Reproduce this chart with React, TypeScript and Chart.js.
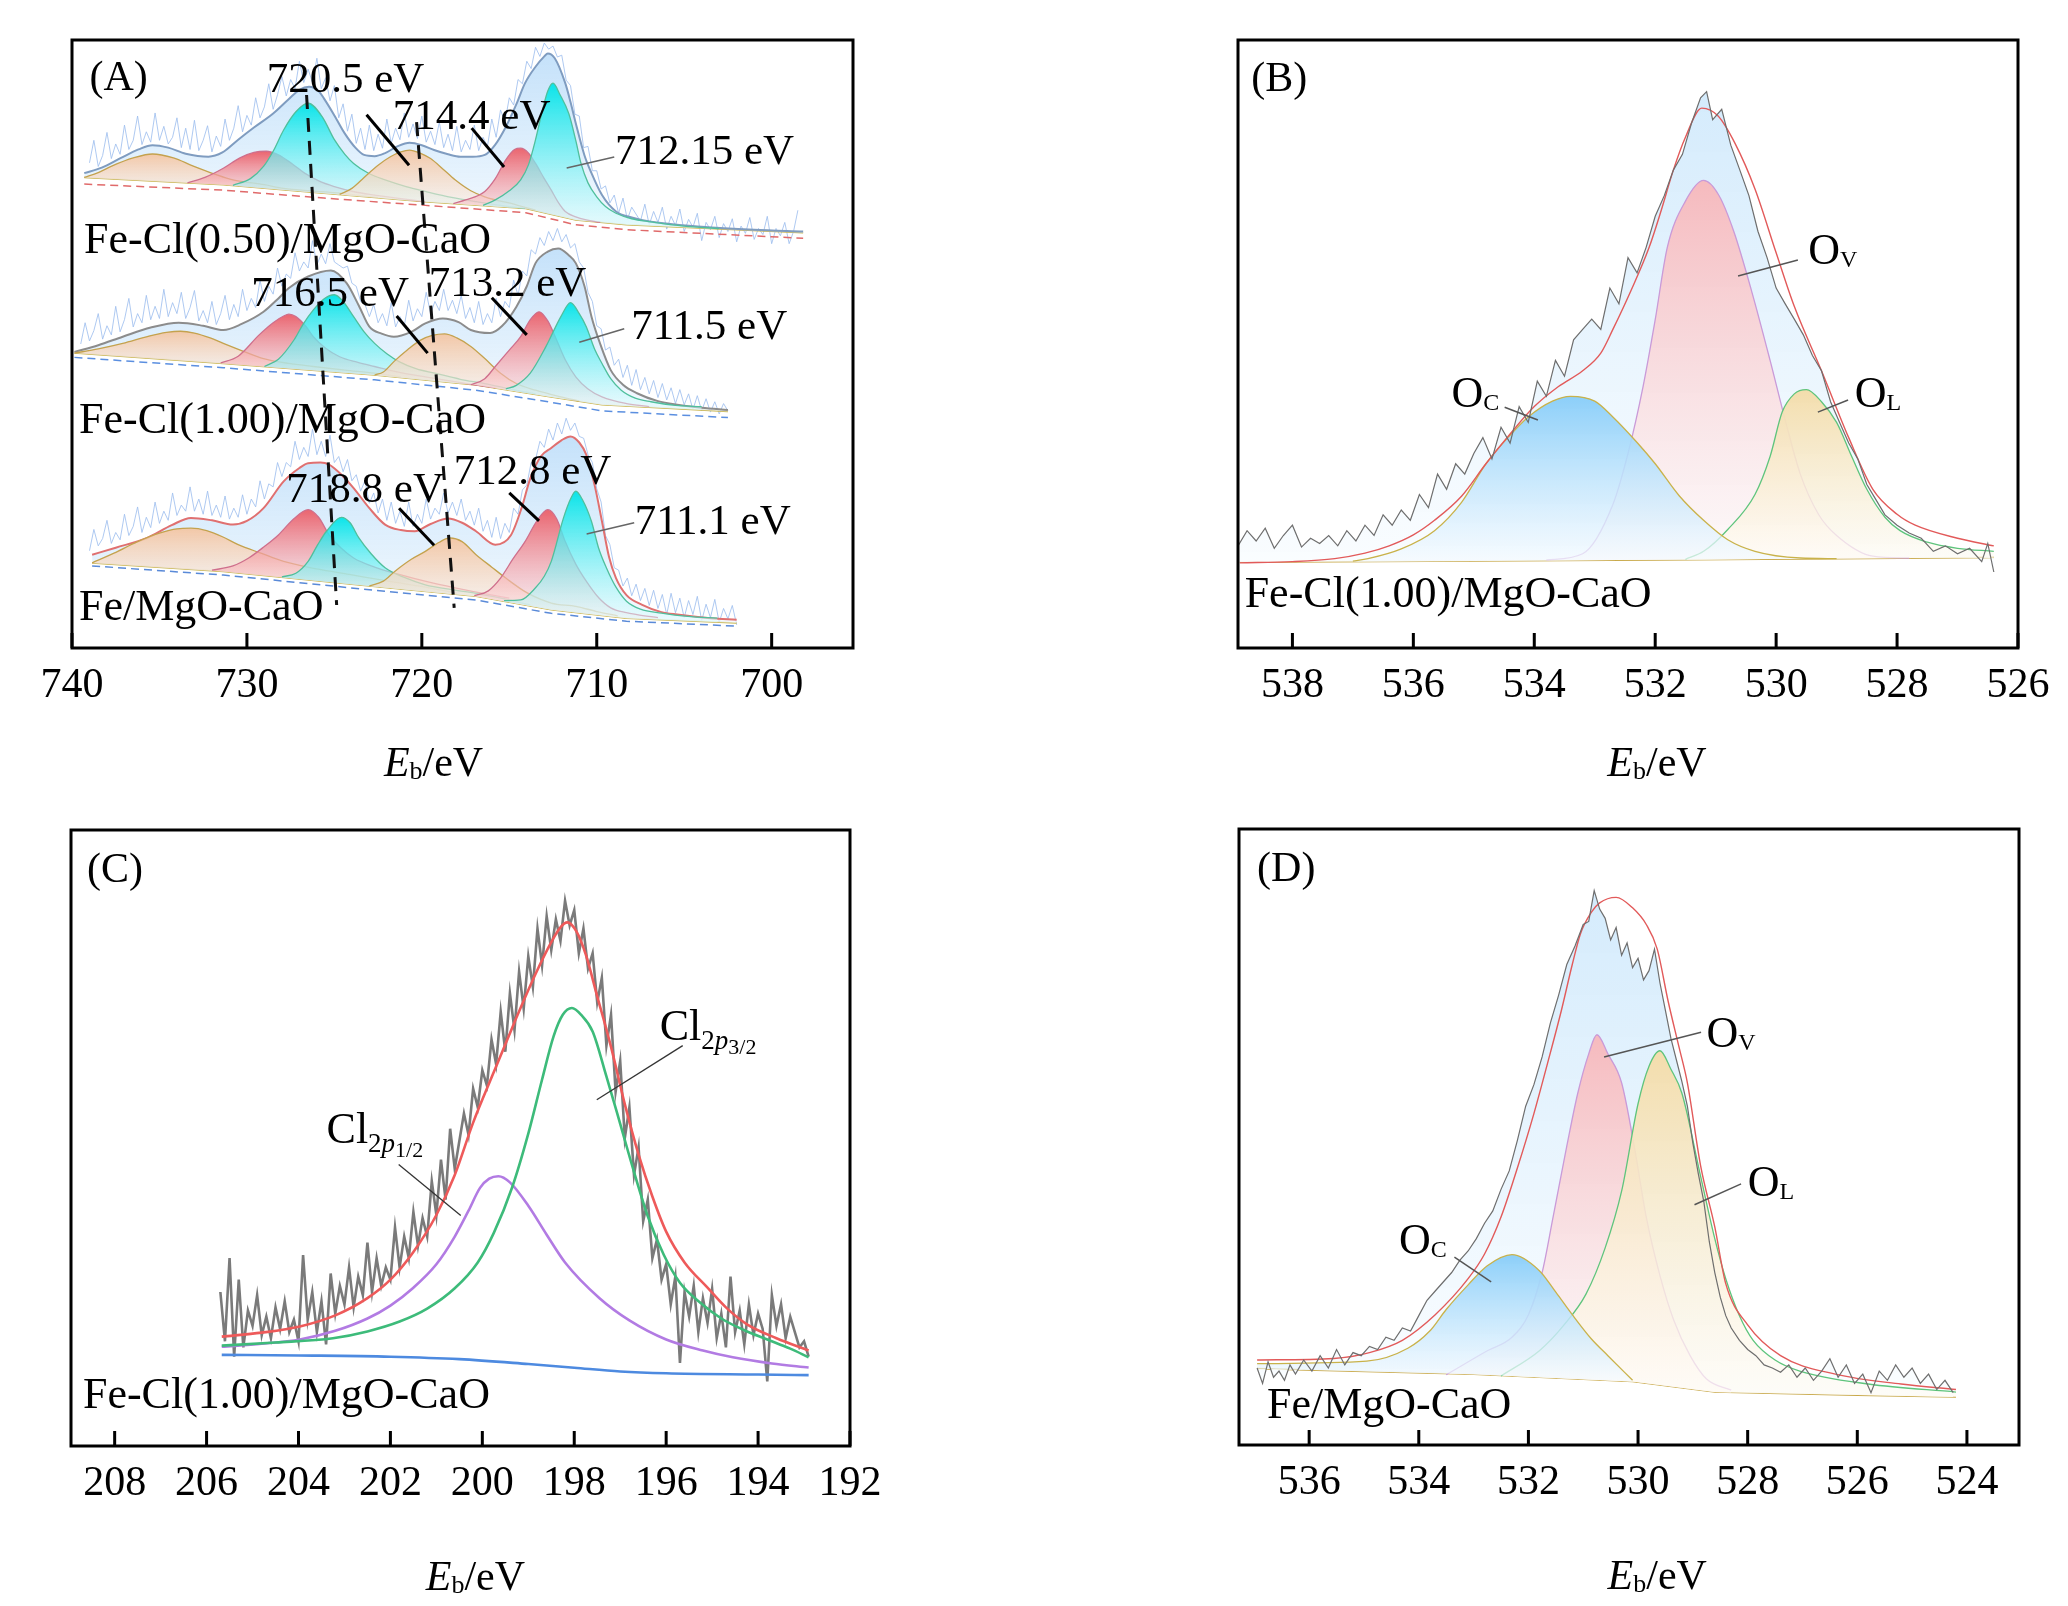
import React, { useEffect, useRef } from 'react';
import { Chart, registerables } from 'chart.js';
import type { ChartConfiguration, Plugin } from 'chart.js';

Chart.register(...registerables);

type Pt = [number, number]; // [binding energy eV, intensity a.u.]

// ---------------- (A) Fe 2p ----------------
const aTicks = [740, 730, 720, 710, 700];

const aTopBase: Pt[] = [[739.3, 77.4], [731.35, 76.2], [725.6, 74.8], [719.8, 73.4], [714.06, 72.3], [711.2, 70.4], [708.3, 69.6], [698.2, 68.3]];
const aTopBg: Pt[] = [[739.3, 76.3], [731.35, 75.3], [725.6, 74.0], [719.8, 72.8], [714.06, 71.6], [711.2, 69.6], [708.3, 68.8], [698.2, 67.4]];
const aTopOrange1: Pt[] = [[739.3, 77.4], [738.5, 78.2], [737.7, 79.3], [736.5, 80.6], [735.4, 81.25], [734.2, 80.6], [733.1, 79.3], [731.8, 77.9], [730.8, 77.0], [729.0, 76.2], [727.9, 75.6], [725.0, 74.9], [722.5, 74.1]];
const aTopRed1: Pt[] = [[733.4, 76.5], [732.4, 77.4], [731.35, 78.9], [730.4, 80.6], [729.6, 81.5], [728.9, 81.7], [728.2, 81.1], [727.4, 79.6], [726.7, 78.1], [725.8, 76.7], [725.0, 75.9], [723.8, 75.0], [722.7, 74.5], [721.2, 73.9], [719.8, 73.4]];
const aTopCyan1: Pt[] = [[730.8, 76.1], [729.8, 77.2], [729.05, 79.2], [728.5, 81.7], [727.9, 85.2], [727.2, 88.2], [726.5, 89.6], [725.7, 87.4], [725.0, 83.6], [724.4, 81.2], [723.9, 79.7], [723.0, 78.0], [722.1, 77.0], [720.9, 75.9], [719.8, 75.1], [718.3, 74.1], [716.9, 73.4], [715.5, 72.8], [714.1, 72.3]];
const aTopOrange2: Pt[] = [[724.7, 74.6], [724.0, 75.6], [723.3, 77.4], [722.5, 79.4], [721.8, 80.8], [721.2, 81.6], [720.7, 81.9], [720.1, 81.4], [719.5, 80.5], [718.8, 78.8], [718.1, 77.0], [717.2, 75.2], [716.4, 74.2], [714.6, 72.9], [713.5, 72.0]];
const aTopRed2: Pt[] = [[718.2, 73.1], [717.5, 73.7], [716.4, 75.1], [715.8, 77.2], [715.2, 80.3], [714.7, 82.0], [714.35, 82.2], [713.9, 81.4], [713.5, 79.7], [713.0, 77.2], [712.6, 75.3], [712.2, 73.3], [711.8, 71.8], [711.2, 70.9], [710.6, 70.4], [709.8, 70.0]];
const aTopCyan2: Pt[] = [[716.5, 72.8], [715.8, 73.7], [715.0, 75.2], [714.35, 77.0], [713.9, 79.5], [713.5, 83.6], [713.1, 88.5], [712.8, 91.6], [712.5, 92.9], [712.1, 91.0], [711.6, 87.9], [711.2, 83.5], [710.9, 79.7], [710.5, 76.5], [710.0, 74.2], [709.5, 72.6], [708.9, 71.5], [708.0, 70.6], [706.9, 70.1], [705.0, 69.4], [703.0, 69.0]];
const aTopEnv: Pt[] = [[739.3, 78.1], [738.3, 79.0], [737.2, 80.6], [736.2, 82.0], [735.4, 82.7], [734.5, 82.3], [733.5, 81.3], [732.2, 80.8], [731.4, 81.5], [730.5, 83.6], [729.6, 85.6], [728.5, 87.9], [727.6, 90.3], [727.0, 91.8], [726.45, 92.3], [725.9, 91.6], [725.6, 90.4], [725.0, 87.6], [724.4, 84.6], [723.8, 82.3], [723.3, 81.1], [722.7, 80.9], [722.1, 81.4], [721.4, 82.5], [720.7, 83.1], [720.0, 82.7], [719.3, 81.9], [718.5, 81.2], [717.8, 80.8], [717.1, 80.8], [716.4, 81.1], [715.8, 82.8], [715.2, 85.7], [714.6, 89.4], [714.1, 92.9], [713.5, 95.6], [713.0, 97.3], [712.8, 97.8], [712.4, 97.0], [711.8, 92.9], [711.5, 89.8], [711.2, 86.3], [710.7, 81.0], [710.3, 78.1], [709.7, 74.5], [708.9, 71.8], [708.0, 70.8], [706.9, 70.1], [704.0, 69.3], [701.0, 68.8], [698.2, 68.5]];
const aTopRaw: Pt[] = [[739.0, 79.8], [738.75, 83.5], [738.5, 79.2], [738.25, 81.0], [738.0, 84.8], [737.75, 80.5], [737.5, 82.9], [737.25, 81.2], [737.0, 86.0], [736.75, 82.0], [736.5, 83.5], [736.25, 87.5], [736.0, 82.8], [735.75, 84.9], [735.5, 83.2], [735.25, 88.0], [735.0, 83.5], [734.75, 85.8], [734.5, 82.9], [734.25, 84.0], [734.0, 87.2], [733.75, 82.3], [733.5, 85.5], [733.25, 82.0], [733.0, 86.8], [732.75, 81.8], [732.5, 83.5], [732.25, 85.9], [732.0, 81.6], [731.75, 84.2], [731.5, 82.5], [731.25, 87.0], [731.0, 83.5], [730.75, 85.5], [730.5, 89.2], [730.25, 84.9], [730.0, 87.6], [729.75, 86.0], [729.5, 90.5], [729.25, 87.2], [729.0, 89.0], [728.75, 92.8], [728.5, 88.6], [728.25, 91.0], [728.0, 94.0], [727.75, 90.8], [727.5, 93.5], [727.25, 92.0], [727.0, 96.5], [726.75, 93.0], [726.5, 95.2], [726.25, 93.0], [726.0, 97.0], [725.75, 92.0], [725.5, 93.8], [725.25, 90.0], [725.0, 92.5], [724.75, 87.2], [724.5, 89.5], [724.25, 85.0], [724.0, 87.8], [723.75, 83.0], [723.5, 85.5], [723.25, 82.0], [723.0, 86.0], [722.75, 81.8], [722.5, 84.5], [722.25, 82.2], [722.0, 87.0], [721.75, 83.0], [721.5, 85.5], [721.25, 83.6], [721.0, 88.0], [720.75, 84.0], [720.5, 86.2], [720.25, 83.8], [720.0, 87.5], [719.75, 83.2], [719.5, 85.0], [719.25, 82.8], [719.0, 86.5], [718.75, 82.3], [718.5, 84.5], [718.25, 81.8], [718.0, 85.8], [717.75, 81.6], [717.5, 83.5], [717.25, 82.0], [717.0, 86.0], [716.75, 81.8], [716.5, 84.0], [716.25, 82.5], [716.0, 87.0], [715.75, 84.0], [715.5, 88.5], [715.25, 86.5], [715.0, 90.5], [714.75, 89.3], [714.5, 93.5], [714.25, 92.8], [714.0, 96.5], [713.75, 95.3], [713.5, 98.8], [713.25, 97.3], [713.0, 99.5], [712.75, 98.5], [712.5, 99.0], [712.25, 97.2], [712.0, 97.5], [711.75, 93.4], [711.5, 92.5], [711.25, 87.8], [711.0, 87.5], [710.75, 82.3], [710.5, 82.5], [710.25, 78.5], [710.0, 78.5], [709.75, 75.5], [709.5, 76.0], [709.25, 73.2], [709.0, 74.5], [708.75, 71.5], [708.5, 74.0], [708.25, 70.5], [708.0, 72.5], [707.5, 70.2], [707.25, 73.0], [707.0, 69.6], [706.75, 71.8], [706.5, 70.0], [706.25, 72.5], [706.0, 68.9], [705.75, 71.0], [705.5, 69.5], [705.25, 72.2], [705.0, 68.5], [704.75, 70.5], [704.5, 69.2], [704.25, 71.5], [704.0, 67.0], [703.75, 70.0], [703.5, 68.8], [703.25, 71.0], [703.0, 67.5], [702.75, 69.8], [702.5, 68.5], [702.25, 70.6], [702.0, 66.8], [701.75, 69.4], [701.5, 68.2], [701.25, 70.8], [701.0, 67.2], [700.75, 69.0], [700.5, 68.0], [700.25, 71.0], [700.0, 66.5], [699.75, 69.0], [699.5, 67.8], [699.25, 70.0], [699.0, 66.5], [698.75, 68.5], [698.5, 72.0]];

const aMidBase: Pt[] = [[739.86, 48.5], [731.35, 46.8], [722.7, 44.9], [716.9, 43.25], [712.6, 41.3], [709.7, 40.0], [702.5, 38.9]];
const aMidBg: Pt[] = [[739.86, 47.8], [731.35, 46.1], [722.7, 44.1], [716.9, 42.4], [712.6, 40.4], [709.7, 39.0], [702.5, 37.9]];
const aMidOrange1: Pt[] = [[739.86, 48.5], [738.5, 49.2], [737.1, 50.1], [735.6, 51.3], [734.6, 51.9], [733.8, 52.1], [733.0, 51.8], [732.1, 51.0], [731.35, 50.1], [730.2, 48.8], [729.05, 47.6], [727.6, 46.8], [726.2, 46.3], [724.4, 45.7], [722.7, 45.2], [721.2, 44.6]];
const aMidRed1: Pt[] = [[731.5, 46.9], [730.5, 48.0], [729.3, 51.5], [728.5, 53.5], [727.9, 54.6], [727.6, 54.9], [727.2, 54.5], [726.6, 52.8], [726.2, 51.2], [725.5, 49.3], [724.7, 47.9], [723.7, 47.0], [722.7, 46.3], [721.2, 45.3], [719.8, 44.6], [718.3, 43.9], [716.9, 43.25], [715.8, 42.8]];
const aMidCyan1: Pt[] = [[729.0, 46.3], [728.2, 47.5], [727.3, 50.7], [726.8, 53.2], [726.2, 55.6], [725.6, 57.4], [725.0, 58.1], [724.5, 57.0], [723.9, 54.5], [723.3, 52.0], [722.7, 50.1], [722.0, 48.4], [721.3, 47.1], [720.3, 45.9], [719.25, 45.2], [717.8, 44.2], [716.4, 43.5], [714.8, 42.5], [713.5, 41.8]];
const aMidOrange2: Pt[] = [[722.7, 44.9], [722.2, 45.4], [721.6, 47.1], [720.8, 49.1], [720.1, 50.6], [719.4, 51.4], [718.7, 51.65], [718.0, 51.0], [717.2, 49.6], [716.4, 47.6], [715.5, 45.2], [714.6, 43.5], [713.5, 42.4], [712.05, 41.3], [711.0, 40.6]];
const aMidRed2: Pt[] = [[717.2, 43.3], [716.4, 44.3], [715.8, 46.3], [715.0, 49.0], [714.35, 51.2], [713.8, 54.0], [713.3, 55.3], [712.8, 53.8], [712.3, 50.7], [711.8, 47.4], [711.2, 44.6], [710.5, 42.6], [709.7, 41.3], [708.3, 40.2], [707.0, 39.7]];
const aMidCyan2: Pt[] = [[715.2, 42.6], [714.6, 43.2], [713.8, 45.2], [712.9, 49.6], [712.05, 54.5], [711.5, 56.8], [711.0, 55.0], [710.6, 52.85], [710.1, 49.0], [709.7, 46.8], [709.2, 44.3], [708.6, 42.4], [707.8, 41.1], [706.9, 40.5], [705.5, 39.9], [704.0, 39.7]];
const aMidEnv: Pt[] = [[739.86, 48.7], [738.5, 49.8], [737.1, 51.2], [735.5, 52.7], [733.9, 53.5], [732.5, 53.0], [731.35, 52.3], [730.3, 53.3], [729.05, 55.3], [728.2, 57.5], [727.6, 59.2], [726.5, 61.1], [725.2, 62.1], [724.3, 60.0], [723.6, 56.3], [723.0, 52.85], [722.3, 51.7], [721.6, 51.2], [720.6, 52.0], [719.8, 53.4], [718.8, 54.2], [717.9, 53.6], [717.2, 52.3], [716.1, 51.8], [715.4, 53.0], [714.6, 56.1], [714.0, 59.5], [713.5, 63.3], [712.8, 65.2], [712.2, 65.7], [711.6, 64.6], [711.2, 63.3], [710.7, 59.5], [710.3, 54.5], [709.8, 50.0], [709.2, 45.7], [708.5, 43.3], [707.7, 41.9], [706.5, 40.6], [705.4, 40.0], [704.0, 39.5], [702.5, 39.15]];
const aMidRaw: Pt[] = [[739.5, 50.0], [739.25, 53.5], [739.0, 50.5], [738.75, 52.2], [738.5, 55.0], [738.25, 50.8], [738.0, 53.0], [737.75, 51.5], [737.5, 56.2], [737.25, 52.0], [737.0, 54.0], [736.75, 57.5], [736.5, 52.8], [736.25, 55.0], [736.0, 53.5], [735.75, 58.0], [735.5, 54.0], [735.25, 56.2], [735.0, 54.2], [734.75, 59.0], [734.5, 54.5], [734.25, 56.8], [734.0, 55.0], [733.75, 58.5], [733.5, 54.2], [733.25, 56.0], [733.0, 58.8], [732.75, 53.8], [732.5, 55.5], [732.25, 53.5], [732.0, 57.0], [731.75, 53.2], [731.5, 55.0], [731.25, 58.0], [731.0, 54.0], [730.75, 56.5], [730.5, 54.5], [730.25, 59.0], [730.0, 55.5], [729.75, 57.5], [729.5, 56.0], [729.25, 60.5], [729.0, 57.0], [728.75, 59.5], [728.5, 58.2], [728.25, 62.5], [728.0, 59.5], [727.75, 61.5], [727.5, 60.8], [727.25, 65.0], [727.0, 62.0], [726.75, 63.5], [726.5, 62.5], [726.25, 67.0], [726.0, 63.0], [725.75, 64.8], [725.5, 63.2], [725.25, 66.5], [725.0, 63.5], [724.75, 63.0], [724.5, 62.5], [724.25, 62.8], [724.0, 60.0], [723.75, 59.5], [723.5, 57.0], [723.25, 56.5], [723.0, 54.5], [722.75, 56.5], [722.5, 53.5], [722.25, 55.0], [722.0, 53.0], [721.75, 56.8], [721.5, 52.8], [721.25, 54.5], [721.0, 53.0], [720.75, 57.2], [720.5, 53.8], [720.25, 55.8], [720.0, 54.5], [719.75, 58.5], [719.5, 55.0], [719.25, 57.0], [719.0, 55.5], [718.75, 59.0], [718.5, 55.5], [718.25, 57.2], [718.0, 55.0], [717.75, 58.0], [717.5, 54.2], [717.25, 56.0], [717.0, 53.5], [716.75, 57.0], [716.5, 53.2], [716.25, 55.0], [716.0, 53.5], [715.75, 57.5], [715.5, 54.5], [715.25, 57.0], [715.0, 56.0], [714.75, 60.5], [714.5, 58.0], [714.25, 62.0], [714.0, 61.2], [713.75, 65.5], [713.5, 64.8], [713.25, 67.5], [713.0, 66.2], [712.75, 68.5], [712.5, 67.0], [712.25, 69.0], [712.0, 66.8], [711.75, 68.0], [711.5, 65.8], [711.25, 66.5], [711.0, 63.5], [710.75, 62.5], [710.5, 58.5], [710.25, 57.0], [710.0, 53.0], [709.75, 52.5], [709.5, 49.0], [709.25, 49.5], [709.0, 46.5], [708.75, 47.5], [708.5, 44.5], [708.25, 46.5], [708.0, 43.2], [707.75, 45.8], [707.5, 42.5], [707.25, 44.5], [707.0, 41.8], [706.75, 44.0], [706.5, 41.2], [706.25, 43.5], [706.0, 40.8], [705.75, 42.8], [705.5, 40.2], [705.25, 42.5], [705.0, 40.0], [704.75, 41.8], [704.5, 39.2], [704.25, 41.5], [704.0, 39.0], [703.75, 41.0], [703.5, 38.8], [703.25, 40.5], [703.0, 38.5], [702.75, 40.2], [702.5, 39.0]];

const aBotBase: Pt[] = [[738.85, 14.0], [731.35, 12.6], [722.7, 10.1], [716.9, 8.5], [712.6, 6.3], [708.3, 4.9], [702.0, 4.1]];
const aBotBg: Pt[] = [[738.85, 13.5], [731.35, 12.0], [722.7, 9.5], [716.9, 7.9], [712.6, 5.7], [708.3, 4.4], [702.0, 3.6]];
const aBotOrange1: Pt[] = [[738.85, 14.0], [737.6, 15.6], [736.25, 17.5], [735.0, 18.9], [734.0, 19.6], [733.2, 19.7], [732.3, 19.3], [731.4, 18.3], [730.5, 17.0], [729.2, 15.6], [727.9, 14.25], [726.0, 13.0], [724.15, 12.1], [721.9, 11.0], [719.8, 10.0], [718.0, 9.0]];
const aBotRed1: Pt[] = [[732.0, 12.8], [730.8, 13.5], [729.9, 14.8], [729.0, 16.7], [728.2, 18.6], [727.3, 21.3], [726.5, 22.75], [725.9, 21.5], [725.3, 18.6], [724.6, 16.4], [723.9, 14.8], [722.7, 13.3], [721.3, 12.1], [719.7, 10.9], [718.1, 9.9], [716.5, 9.0], [715.0, 8.2]];
const aBotCyan1: Pt[] = [[728.0, 11.7], [727.2, 12.3], [726.5, 14.25], [725.95, 17.0], [725.45, 19.2], [724.6, 21.5], [724.1, 20.6], [723.6, 18.1], [722.9, 15.5], [722.1, 13.2], [721.0, 11.6], [719.8, 10.4], [718.3, 9.6], [716.9, 9.0], [715.3, 8.1], [713.8, 7.1]];
const aBotOrange2: Pt[] = [[723.0, 10.2], [722.2, 11.0], [721.55, 12.6], [720.6, 14.6], [719.8, 15.9], [719.0, 17.4], [718.4, 18.1], [717.7, 17.5], [716.9, 15.35], [716.0, 13.3], [715.2, 11.5], [714.0, 9.1], [712.6, 7.4], [711.2, 6.85], [710.0, 6.0], [708.8, 5.3]];
const aBotRed2: Pt[] = [[717.0, 8.6], [716.2, 9.4], [715.5, 11.5], [714.8, 14.6], [714.1, 17.5], [713.4, 21.0], [712.8, 22.75], [712.3, 21.3], [711.8, 17.5], [711.2, 13.8], [710.6, 11.0], [709.9, 8.3], [709.2, 6.6], [708.3, 5.8], [707.7, 5.5], [706.5, 5.0]];
const aBotCyan2: Pt[] = [[715.3, 7.8], [714.35, 7.9], [713.5, 9.9], [713.0, 11.8], [712.6, 14.25], [711.9, 21.4], [711.5, 24.5], [711.2, 25.8], [710.8, 24.3], [710.3, 20.8], [709.9, 16.5], [709.45, 13.2], [708.9, 10.0], [708.3, 7.7], [707.5, 6.4], [706.3, 5.75], [704.8, 5.2], [703.1, 4.9]];
const aBotEnv: Pt[] = [[738.85, 15.35], [737.5, 16.5], [735.7, 18.1], [734.3, 20.2], [733.2, 21.4], [732.0, 21.0], [730.8, 20.3], [730.0, 20.9], [729.05, 23.0], [727.9, 27.4], [727.0, 29.6], [726.5, 30.4], [725.8, 30.5], [725.3, 30.15], [724.6, 28.5], [723.9, 26.3], [723.0, 23.0], [722.1, 20.3], [721.2, 19.4], [720.4, 19.2], [719.5, 20.4], [718.5, 21.3], [717.7, 20.6], [716.9, 19.2], [715.8, 17.0], [714.9, 18.6], [714.3, 23.0], [713.8, 27.9], [713.2, 31.5], [712.6, 32.9], [712.0, 34.2], [711.5, 34.8], [711.0, 33.8], [710.6, 31.8], [710.1, 26.5], [709.7, 20.8], [709.3, 15.0], [708.9, 11.5], [708.3, 8.7], [707.4, 7.1], [706.3, 5.9], [705.4, 5.5], [703.5, 4.9], [702.0, 4.65]];
const aBotRaw: Pt[] = [[739.0, 16.0], [738.75, 19.5], [738.5, 16.8], [738.25, 18.0], [738.0, 21.0], [737.75, 17.2], [737.5, 19.0], [737.25, 17.8], [737.0, 22.0], [736.75, 18.5], [736.5, 20.0], [736.25, 23.2], [736.0, 19.0], [735.75, 21.5], [735.5, 19.8], [735.25, 24.0], [735.0, 20.5], [734.75, 22.5], [734.5, 21.0], [734.25, 25.5], [734.0, 21.8], [733.75, 23.5], [733.5, 22.5], [733.25, 26.5], [733.0, 22.5], [732.75, 24.5], [732.5, 22.0], [732.25, 25.8], [732.0, 21.8], [731.75, 23.5], [731.5, 21.5], [731.25, 25.0], [731.0, 21.2], [730.75, 23.0], [730.5, 21.5], [730.25, 25.2], [730.0, 22.0], [729.75, 24.5], [729.5, 23.2], [729.25, 27.5], [729.0, 24.5], [728.75, 27.0], [728.5, 26.5], [728.25, 30.5], [728.0, 28.2], [727.75, 30.5], [727.5, 29.8], [727.25, 34.0], [727.0, 31.0], [726.75, 33.0], [726.5, 31.5], [726.25, 36.0], [726.0, 31.8], [725.75, 34.0], [725.5, 31.5], [725.25, 35.0], [725.0, 30.5], [724.75, 31.5], [724.5, 29.0], [724.25, 31.0], [724.0, 27.5], [723.75, 28.5], [723.5, 25.8], [723.25, 27.5], [723.0, 23.8], [722.75, 25.5], [722.5, 22.2], [722.25, 24.5], [722.0, 21.0], [721.75, 24.0], [721.5, 20.5], [721.25, 22.5], [721.0, 20.0], [720.75, 24.0], [720.5, 20.0], [720.25, 22.0], [720.0, 20.5], [719.75, 24.5], [719.5, 21.2], [719.25, 23.0], [719.0, 22.0], [718.75, 25.5], [718.5, 22.2], [718.25, 24.0], [718.0, 21.8], [717.75, 24.5], [717.5, 21.0], [717.25, 22.5], [717.0, 20.2], [716.75, 23.0], [716.5, 19.2], [716.25, 21.0], [716.0, 18.2], [715.75, 21.5], [715.5, 18.0], [715.25, 20.5], [715.0, 19.0], [714.75, 23.0], [714.5, 22.0], [714.25, 26.0], [714.0, 26.8], [713.75, 30.5], [713.5, 31.0], [713.25, 34.0], [713.0, 33.0], [712.75, 36.0], [712.5, 34.2], [712.25, 37.0], [712.0, 35.2], [711.75, 37.8], [711.5, 35.8], [711.25, 37.0], [711.0, 34.8], [710.75, 34.5], [710.5, 31.8], [710.25, 30.5], [710.0, 26.2], [709.75, 24.0], [709.5, 18.5], [709.25, 17.0], [709.0, 13.2], [708.75, 12.8], [708.5, 10.2], [708.25, 11.5], [708.0, 8.6], [707.75, 10.5], [707.5, 7.8], [707.25, 9.8], [707.0, 7.0], [706.75, 9.5], [706.5, 6.5], [706.25, 8.8], [706.0, 5.5], [705.75, 9.0], [705.5, 5.8], [705.25, 8.2], [705.0, 5.0], [704.75, 7.8], [704.5, 5.5], [704.25, 8.5], [704.0, 4.5], [703.75, 7.2], [703.5, 5.0], [703.25, 8.0], [703.0, 4.2], [702.75, 6.5], [702.5, 4.8], [702.25, 7.0], [702.0, 3.8]];

const aDashes: Pt[][] = [[[726.59, 90.95], [724.87, 7.07]], [[720.3, 86.5], [718.15, 6.6]]];
const aLeaders: Pt[][] = [
  [[723.16, 87.7], [720.73, 79.4]], [[717.15, 85.5], [715.3, 79.1]],
  [[721.44, 54.6], [719.67, 48.5]], [[716.0, 57.6], [714.0, 51.5]],
  [[721.3, 23.0], [719.3, 16.9]], [[715.0, 25.5], [713.3, 20.9]],
];
const aLeadersThin: Pt[][] = [[[709.0, 80.75], [711.72, 78.95]], [[708.43, 52.5], [711.0, 50.3]], [[707.86, 20.6], [710.58, 18.75]]];
const aPeakText = ['720.5 eV', '714.4 eV', '712.15 eV', '716.5 eV', '713.2 eV', '711.5 eV', '718.8 eV', '712.8 eV', '711.1 eV'];
const aPeakAt: Pt[] = [[724.36, 93.75], [717.15, 87.7], [703.84, 81.9], [725.24, 58.55], [715.1, 60.2], [703.57, 53.1], [723.24, 26.3], [713.67, 29.3], [703.37, 21.05]];
const aSampleText = ['Fe-Cl(0.50)/MgO-CaO', 'Fe-Cl(1.00)/MgO-CaO', 'Fe/MgO-CaO'];
const aSampleAt: Pt[] = [[739.31, 67.4], [739.6, 37.8], [739.6, 7.07]];

// ---------------- (B) O 1s, Fe-Cl(1.00) ----------------
const bTicks = [538, 536, 534, 532, 530, 528, 526];
const bBase: Pt[] = [[538.87, 14.1], [535.0, 14.3], [532.0, 14.5], [529.0, 14.7], [526.4, 14.9]];
const bEnv: Pt[] = [[538.87, 14.0], [538.0, 14.2], [537.3, 14.7], [536.8, 15.6], [536.4, 16.8], [536.0, 18.6], [535.65, 21.0], [535.2, 25.0], [534.8, 30.3], [534.4, 35.2], [534.0, 39.7], [533.6, 43.0], [533.2, 45.6], [532.9, 48.5], [532.7, 52.4], [532.4, 58.8], [532.1, 65.9], [531.9, 72.0], [531.7, 78.6], [531.5, 84.0], [531.23, 88.8], [530.96, 87.5], [530.68, 83.0], [530.35, 75.5], [530.0, 65.0], [529.7, 56.2], [529.25, 45.6], [528.8, 34.6], [528.4, 26.1], [528.0, 22.0], [527.7, 20.2], [527.0, 18.05], [526.4, 16.8]];
const bOc: Pt[] = [[537.0, 14.3], [536.75, 14.7], [536.2, 16.3], [535.65, 19.3], [535.2, 24.0], [534.8, 30.3], [534.4, 35.0], [534.1, 38.0], [533.7, 40.6], [533.4, 41.4], [533.0, 40.6], [532.7, 38.0], [532.3, 33.8], [532.0, 30.3], [531.6, 25.0], [531.2, 21.0], [530.8, 17.8], [530.35, 15.9], [529.6, 14.8], [529.0, 14.7]];
const bOv: Pt[] = [[533.8, 14.5], [533.2, 15.5], [532.7, 23.6], [532.45, 32.0], [532.2, 43.05], [532.0, 54.0], [531.8, 65.9], [531.5, 73.5], [531.2, 76.9], [530.95, 74.5], [530.7, 68.5], [530.4, 58.5], [530.1, 47.3], [529.85, 37.5], [529.6, 28.6], [529.3, 22.0], [529.0, 18.5], [528.4, 15.1], [527.8, 14.8]];
const bOl: Pt[] = [[531.5, 14.6], [531.2, 15.9], [530.8, 19.5], [530.35, 25.25], [530.1, 31.5], [529.9, 38.8], [529.7, 41.8], [529.5, 42.5], [529.25, 40.5], [529.0, 37.1], [528.75, 31.5], [528.5, 26.1], [528.2, 21.5], [527.95, 19.3], [527.5, 17.4], [527.0, 16.4], [526.4, 15.9]];
const bRaw: Pt[] = [[538.9, 16.8], [538.75, 19.3], [538.6, 17.6], [538.45, 19.7], [538.3, 16.4], [538.15, 18.5], [538.0, 20.2], [537.85, 16.6], [537.7, 18.05], [537.55, 17.2], [537.4, 18.5], [537.25, 16.8], [537.1, 19.3], [536.95, 17.6], [536.8, 20.2], [536.65, 18.5], [536.5, 21.9], [536.35, 20.2], [536.2, 22.7], [536.05, 21.0], [535.9, 25.25], [535.75, 23.1], [535.6, 28.6], [535.45, 26.1], [535.3, 30.3], [535.15, 28.6], [535.0, 32.0], [534.85, 34.6], [534.7, 31.1], [534.55, 36.3], [534.4, 33.7], [534.25, 39.7], [534.1, 37.1], [533.95, 43.9], [533.8, 41.4], [533.65, 47.3], [533.5, 44.7], [533.35, 50.7], [533.2, 52.4], [533.05, 54.1], [532.9, 52.4], [532.75, 59.2], [532.6, 56.6], [532.45, 64.2], [532.3, 61.7], [532.15, 65.9], [532.0, 71.0], [531.85, 74.4], [531.7, 78.6], [531.55, 81.2], [531.4, 86.3], [531.25, 90.5], [531.15, 91.5], [531.05, 86.9], [530.9, 88.6], [530.75, 82.7], [530.6, 78.6], [530.45, 74.4], [530.3, 68.5], [530.15, 64.2], [530.0, 59.2], [529.85, 56.6], [529.7, 54.1], [529.55, 51.5], [529.4, 48.1], [529.25, 45.6], [529.1, 40.5], [528.95, 37.1], [528.8, 33.7], [528.65, 31.1], [528.5, 26.9], [528.35, 24.4], [528.2, 21.9], [528.0, 20.2], [527.8, 18.9], [527.6, 18.05], [527.4, 15.9], [527.2, 16.8], [527.0, 15.5], [526.8, 16.4], [526.6, 14.2], [526.5, 17.2], [526.4, 12.5]];
const bLeaders: Pt[][] = [[[530.63, 61.2], [529.64, 63.8]], [[534.49, 39.6], [533.94, 37.5]], [[529.31, 38.8], [528.81, 40.8]]];

// ---------------- (C) Cl 2p, Fe-Cl(1.00) ----------------
const cTicks = [208, 206, 204, 202, 200, 198, 196, 194, 192];
const cBg: Pt[] = [[205.67, 14.8], [204.0, 14.7], [202.0, 14.5], [200.5, 14.1], [199.0, 13.3], [198.0, 12.7], [197.0, 12.1], [196.0, 11.8], [194.0, 11.6], [192.9, 11.5]];
const cP12: Pt[] = [[205.67, 16.1], [204.8, 16.6], [203.97, 17.3], [203.2, 18.7], [202.5, 20.7], [202.0, 22.8], [201.5, 25.7], [201.0, 29.5], [200.6, 34.0], [200.3, 38.2], [200.05, 41.9], [199.85, 43.4], [199.65, 43.8], [199.4, 42.8], [199.0, 39.0], [198.6, 34.3], [198.2, 29.8], [197.45, 24.0], [196.8, 20.4], [196.0, 17.3], [195.2, 15.5], [194.55, 14.4], [193.7, 13.4], [192.9, 12.75]];
const cP32: Pt[] = [[205.67, 16.3], [204.5, 16.8], [203.25, 17.5], [202.5, 18.6], [201.8, 20.2], [201.2, 22.3], [200.6, 25.6], [200.1, 29.8], [199.75, 34.6], [199.35, 42.0], [199.0, 50.7], [198.7, 59.5], [198.45, 66.5], [198.25, 70.0], [198.05, 71.1], [197.85, 70.0], [197.6, 67.3], [197.3, 60.0], [197.0, 52.3], [196.7, 44.5], [196.4, 37.3], [196.05, 31.0], [195.7, 26.5], [195.25, 23.2], [194.8, 20.7], [194.3, 18.8], [193.8, 17.3], [193.3, 15.8], [192.9, 14.4]];
const cEnv: Pt[] = [[205.67, 17.75], [204.8, 18.4], [203.97, 19.4], [203.2, 21.2], [202.5, 24.0], [202.0, 27.0], [201.5, 31.5], [201.0, 37.5], [200.6, 44.0], [200.2, 52.5], [199.75, 60.7], [199.3, 68.8], [198.85, 76.5], [198.5, 81.8], [198.3, 84.2], [198.15, 85.0], [197.95, 83.5], [197.75, 79.8], [197.5, 73.0], [197.2, 64.8], [196.9, 55.5], [196.6, 47.3], [196.3, 40.5], [196.0, 34.8], [195.6, 29.8], [195.1, 25.7], [194.7, 22.5], [194.25, 19.8], [193.6, 17.5], [192.9, 15.5]];
const cRaw: Pt[] = [[205.7, 25.0], [205.6, 17.0], [205.5, 30.5], [205.4, 14.5], [205.3, 27.0], [205.2, 16.0], [205.1, 22.0], [205.0, 19.5], [204.9, 24.5], [204.8, 18.0], [204.7, 21.0], [204.6, 17.5], [204.5, 22.5], [204.4, 19.0], [204.3, 23.5], [204.2, 18.5], [204.1, 20.5], [204.0, 17.0], [203.9, 31.0], [203.8, 20.5], [203.7, 25.0], [203.6, 18.5], [203.5, 23.5], [203.4, 16.5], [203.3, 28.0], [203.2, 21.5], [203.1, 26.0], [203.0, 23.0], [202.9, 29.0], [202.8, 22.5], [202.7, 27.5], [202.6, 24.5], [202.5, 33.0], [202.4, 25.0], [202.3, 30.5], [202.2, 26.0], [202.1, 29.0], [202.0, 27.0], [201.9, 35.5], [201.8, 29.0], [201.7, 34.0], [201.6, 30.5], [201.5, 38.0], [201.4, 32.5], [201.3, 37.0], [201.2, 34.0], [201.1, 43.0], [201.0, 37.5], [200.9, 46.5], [200.8, 40.0], [200.7, 51.5], [200.6, 45.0], [200.5, 49.5], [200.4, 54.0], [200.3, 50.5], [200.2, 58.0], [200.1, 55.0], [200.0, 61.0], [199.9, 58.5], [199.8, 66.0], [199.7, 62.0], [199.6, 70.5], [199.5, 64.0], [199.4, 73.5], [199.3, 67.5], [199.2, 77.0], [199.1, 71.0], [199.0, 79.5], [198.9, 74.5], [198.8, 84.0], [198.7, 78.0], [198.6, 86.0], [198.5, 80.5], [198.4, 85.5], [198.3, 82.0], [198.2, 88.5], [198.1, 84.5], [198.0, 87.0], [197.9, 80.0], [197.8, 84.0], [197.7, 77.5], [197.6, 80.0], [197.5, 72.0], [197.4, 76.0], [197.3, 65.0], [197.2, 70.0], [197.1, 57.5], [197.0, 62.5], [196.9, 50.0], [196.8, 55.0], [196.7, 44.0], [196.6, 48.5], [196.5, 36.5], [196.4, 40.0], [196.3, 30.5], [196.2, 33.5], [196.1, 27.0], [196.0, 29.5], [195.9, 23.0], [195.8, 27.5], [195.7, 13.5], [195.6, 25.0], [195.5, 21.0], [195.4, 26.0], [195.3, 18.5], [195.2, 24.0], [195.1, 20.0], [195.0, 25.5], [194.9, 17.5], [194.8, 21.5], [194.7, 16.0], [194.6, 27.5], [194.5, 18.5], [194.4, 22.0], [194.3, 16.5], [194.2, 23.0], [194.1, 18.0], [194.0, 21.5], [193.9, 19.0], [193.8, 10.5], [193.7, 24.5], [193.6, 19.5], [193.5, 23.0], [193.4, 17.5], [193.3, 21.0], [193.2, 18.5], [193.1, 16.0], [193.0, 17.0], [192.9, 14.5]];
const cLeaders: Pt[][] = [[[201.82, 45.7], [200.47, 37.4]], [[195.64, 65.0], [197.51, 56.2]]];

// ---------------- (D) O 1s, Fe/MgO-CaO ----------------
const dTicks = [536, 534, 532, 530, 528, 526, 524];
const dBase: Pt[] = [[536.95, 12.4], [533.0, 11.5], [530.1, 10.3], [528.6, 8.6], [526.0, 8.1], [524.2, 7.8]];
const dEnv: Pt[] = [[536.95, 13.8], [535.55, 14.05], [534.9, 15.0], [534.3, 17.0], [533.7, 21.15], [533.1, 27.0], [532.8, 31.0], [532.5, 37.0], [532.2, 45.0], [531.9, 53.8], [531.65, 62.0], [531.4, 70.5], [531.2, 78.0], [531.05, 83.0], [530.85, 86.5], [530.7, 88.0], [530.4, 88.9], [530.1, 87.2], [529.85, 84.5], [529.65, 80.5], [529.45, 72.0], [529.25, 64.5], [529.1, 58.8], [528.86, 45.4], [528.6, 35.4], [528.4, 26.2], [528.0, 19.5], [527.4, 14.5], [526.4, 11.5], [525.2, 9.9], [524.2, 9.0]];
const dOc: Pt[] = [[536.95, 13.2], [534.95, 13.6], [534.2, 15.7], [533.8, 18.5], [533.5, 22.0], [533.1, 26.0], [532.75, 29.1], [532.3, 30.9], [531.8, 28.3], [531.5, 24.8], [531.2, 21.15], [530.85, 17.2], [530.55, 14.5], [530.1, 10.5]];
const dOv: Pt[] = [[533.5, 11.4], [532.75, 15.3], [532.3, 17.5], [532.0, 21.15], [531.75, 28.0], [531.55, 37.0], [531.3, 48.5], [531.1, 57.1], [530.9, 63.5], [530.75, 66.6], [530.55, 63.5], [530.3, 58.8], [530.05, 47.5], [529.85, 37.0], [529.6, 27.5], [529.35, 20.3], [529.05, 14.5], [528.75, 10.7], [528.3, 8.9]];
const dOl: Pt[] = [[532.5, 11.2], [531.8, 15.3], [531.35, 19.5], [530.95, 24.5], [530.6, 32.0], [530.3, 41.2], [530.0, 55.4], [529.8, 61.5], [529.6, 64.0], [529.4, 61.0], [529.2, 57.1], [528.86, 43.7], [528.6, 33.5], [528.4, 27.0], [528.15, 21.0], [527.9, 17.0], [527.5, 13.8], [527.05, 12.0], [525.8, 9.9], [524.2, 8.6]];
const dRaw: Pt[] = [[536.95, 12.5], [536.85, 10.0], [536.75, 13.5], [536.65, 11.0], [536.55, 12.0], [536.45, 10.5], [536.35, 13.0], [536.25, 11.5], [536.1, 13.8], [535.95, 12.0], [535.8, 14.5], [535.65, 12.5], [535.5, 15.5], [535.35, 13.0], [535.2, 15.0], [535.05, 14.5], [534.9, 16.0], [534.75, 15.5], [534.6, 17.5], [534.45, 17.0], [534.3, 19.0], [534.15, 18.5], [534.0, 21.0], [533.85, 23.5], [533.7, 25.0], [533.55, 26.5], [533.4, 28.0], [533.25, 30.0], [533.1, 31.5], [532.95, 33.5], [532.8, 36.0], [532.65, 38.0], [532.5, 41.5], [532.35, 44.5], [532.2, 49.5], [532.05, 55.0], [531.9, 58.5], [531.75, 63.0], [531.6, 68.5], [531.45, 73.0], [531.3, 78.0], [531.15, 81.0], [531.0, 84.5], [530.9, 85.0], [530.8, 90.0], [530.7, 87.0], [530.6, 85.5], [530.5, 82.0], [530.4, 84.0], [530.3, 79.5], [530.2, 81.5], [530.1, 77.5], [530.0, 79.0], [529.9, 75.5], [529.8, 77.0], [529.7, 80.5], [529.6, 75.0], [529.5, 70.5], [529.4, 66.0], [529.3, 62.5], [529.2, 59.0], [529.1, 55.0], [529.0, 49.0], [528.9, 44.0], [528.8, 39.5], [528.7, 33.0], [528.6, 28.0], [528.5, 24.0], [528.4, 21.0], [528.3, 19.0], [528.15, 17.0], [528.0, 15.5], [527.85, 14.5], [527.7, 13.0], [527.55, 12.5], [527.4, 11.8], [527.25, 13.0], [527.1, 11.0], [526.95, 12.5], [526.8, 10.5], [526.65, 12.0], [526.5, 14.0], [526.35, 11.0], [526.2, 13.0], [526.05, 10.0], [525.9, 11.5], [525.75, 8.5], [525.6, 12.0], [525.45, 10.5], [525.3, 13.0], [525.15, 11.0], [525.0, 12.5], [524.85, 10.0], [524.7, 11.5], [524.55, 9.0], [524.4, 10.5], [524.25, 8.5]];
const dLeaders: Pt[][] = [[[530.62, 63.0], [528.85, 67.0]], [[528.97, 39.0], [528.12, 42.4]], [[533.35, 30.5], [532.68, 26.5]]];

// ---------------- drawing helpers ----------------
const SERIF = '"Liberation Serif", "Times New Roman", serif';

type Seg = { t: string; size: number; italic?: boolean; dy?: number };
type Label = { at: Pt; segs: Seg[]; align?: 'left' | 'center' };
type Series = {
  id?: string;
  data: Pt[];
  color: string;
  width: number;
  dash?: number[];
  smooth?: boolean;
  fillTo?: string;
  fillTop?: string;
  fillBottom?: string;
};
type PanelSpec = {
  min: number;
  max: number;
  ticks: number[];
  series: Series[]; // front to back
  labels: Label[];
  titleAt: number;
  titleDrop: number;
};

const KIND = {
  cyan: { line: '#4fbf9c', top: 'rgba(0,228,232,0.95)', bottom: 'rgba(220,251,252,0.5)' },
  red: { line: '#cf6f8c', top: 'rgba(236,86,96,0.9)', bottom: 'rgba(253,230,233,0.5)' },
  orange: { line: '#c4a24e', top: 'rgba(244,196,160,0.92)', bottom: 'rgba(253,240,230,0.5)' },
  oc: { line: '#c9b24a', top: 'rgba(140,207,249,1)', bottom: 'rgba(244,250,255,0.7)' },
  ov: { line: '#c99ad8', top: 'rgba(246,186,190,1)', bottom: 'rgba(255,248,248,0.7)' },
  ol: { line: '#5ec47c', top: 'rgba(243,221,172,1)', bottom: 'rgba(255,252,245,0.7)' },
};
type Kind = keyof typeof KIND;

const comp = (data: Pt[], k: Kind, base: string): Series => ({
  data, color: KIND[k].line, width: 1.3, smooth: true, fillTo: base, fillTop: KIND[k].top, fillBottom: KIND[k].bottom,
});

function spectrum(id: string, base: Pt[], bg: Pt[], bgColor: string, env: Pt[], envColor: string, comps: [Pt[], Kind][], raw: Pt[]): Series[] {
  const baseId = id + 'Base';
  return [
    ...comps.map(([d, k]) => comp(d, k, baseId)),
    { data: env, color: envColor, width: 2, smooth: true, fillTo: baseId, fillTop: 'rgba(186,220,249,0.85)', fillBottom: 'rgba(238,247,254,0.7)' },
    { data: bg, color: bgColor, width: 1.5, dash: [8, 5] },
    { id: baseId, data: base, color: '#c9b44c', width: 1.5 },
    { data: raw, color: 'rgba(160,192,238,0.85)', width: 1 },
  ];
}

const oLabel = (sub: string): Seg[] => [{ t: 'O', size: 44 }, { t: sub, size: 24, dy: 3 }];
const clLabel = (j: string): Seg[] => [{ t: 'Cl', size: 44 }, { t: '2', size: 27, dy: 9 }, { t: 'p', size: 27, italic: true, dy: 9 }, { t: j, size: 22, dy: 14 }];
const leader = (d: Pt[], color: string, width: number): Series => ({ data: d, color, width });

const panelA: PanelSpec = {
  min: 695.35, max: 740, ticks: aTicks, titleAt: 719.33, titleDrop: 114,
  series: [
    ...aDashes.map((d) => ({ data: d, color: '#111', width: 3, dash: [14, 9] })),
    ...aLeaders.map((d) => leader(d, '#000', 3)),
    ...aLeadersThin.map((d) => leader(d, '#666', 1.6)),
    ...spectrum('top', aTopBase, aTopBg, '#e06a6a', aTopEnv, '#7f9cc0',
      [[aTopCyan2, 'cyan'], [aTopRed2, 'red'], [aTopOrange2, 'orange'], [aTopCyan1, 'cyan'], [aTopRed1, 'red'], [aTopOrange1, 'orange']], aTopRaw),
    ...spectrum('mid', aMidBase, aMidBg, '#5b8fe0', aMidEnv, '#8c8c8c',
      [[aMidCyan2, 'cyan'], [aMidRed2, 'red'], [aMidOrange2, 'orange'], [aMidCyan1, 'cyan'], [aMidRed1, 'red'], [aMidOrange1, 'orange']], aMidRaw),
    ...spectrum('bot', aBotBase, aBotBg, '#5a8ad8', aBotEnv, '#e07070',
      [[aBotCyan2, 'cyan'], [aBotRed2, 'red'], [aBotOrange2, 'orange'], [aBotCyan1, 'cyan'], [aBotRed1, 'red'], [aBotOrange1, 'orange']], aBotRaw),
  ],
  labels: [
    { at: [739.0, 94.0], segs: [{ t: '(A)', size: 42 }] },
    ...aPeakText.map((t, i) => ({ at: aPeakAt[i], segs: [{ t, size: 43 }], align: 'center' as const })),
    ...aSampleText.map((t, i) => ({ at: aSampleAt[i], segs: [{ t, size: 44 }] })),
  ],
};

// the light blue area of the O 1s fits runs from the measured curve down to the background
function oxygenPanel(base: Pt[], env: Pt[], oc: Pt[], ov: Pt[], ol: Pt[], raw: Pt[], leaders: Pt[][]): Series[] {
  return [
    ...leaders.map((d) => leader(d, '#555', 1.5)),
    { data: raw, color: '#6e6e6e', width: 1.2 },
    { data: env, color: '#e25a5a', width: 1.4, smooth: true },
    comp(oc, 'oc', 'base'),
    comp(ol, 'ol', 'base'),
    comp(ov, 'ov', 'base'),
    { data: raw, color: 'rgba(0,0,0,0)', width: 0, fillTo: 'base', fillTop: 'rgba(210,234,252,0.95)', fillBottom: 'rgba(250,253,255,0.9)' },
    { id: 'base', data: base, color: '#c8a848', width: 1.6 },
  ];
}

const panelB: PanelSpec = {
  min: 526, max: 538.9, ticks: bTicks, titleAt: 531.97, titleDrop: 114,
  series: oxygenPanel(bBase, bEnv, bOc, bOv, bOl, bRaw, bLeaders),
  labels: [
    { at: [538.68, 93.9], segs: [{ t: '(B)', size: 42 }] },
    { at: [529.47, 65.5], segs: oLabel('V') },
    { at: [535.37, 42.1], segs: oLabel('C') },
    { at: [528.7, 42.1], segs: oLabel('L') },
    { at: [538.79, 9.05], segs: [{ t: 'Fe-Cl(1.00)/MgO-CaO', size: 44 }] },
  ],
};

const panelC: PanelSpec = {
  min: 192, max: 208.95, ticks: cTicks, titleAt: 200.15, titleDrop: 130,
  series: [
    ...cLeaders.map((d) => leader(d, '#333', 1.3)),
    { data: cEnv, color: '#ee5a5a', width: 2.6, smooth: true },
    { data: cP32, color: '#3dbb7a', width: 2.6, smooth: true },
    { data: cP12, color: '#b27be3', width: 2.6, smooth: true },
    { data: cBg, color: '#4d8ae0', width: 2.6, smooth: true },
    { data: cRaw, color: '#7a7a7a', width: 2.6 },
  ],
  labels: [
    { at: [208.6, 93.8], segs: [{ t: '(C)', size: 42 }] },
    { at: [203.39, 51.5], segs: clLabel('1/2') },
    { at: [196.14, 68.2], segs: clLabel('3/2') },
    { at: [208.69, 8.6], segs: [{ t: 'Fe-Cl(1.00)/MgO-CaO', size: 44 }] },
  ],
};

const panelD: PanelSpec = {
  min: 523.05, max: 537.28, ticks: dTicks, titleAt: 529.65, titleDrop: 130,
  series: oxygenPanel(dBase, dEnv, dOc, dOv, dOl, dRaw, dLeaders),
  labels: [
    { at: [536.95, 93.8], segs: [{ t: '(D)', size: 42 }] },
    { at: [528.75, 67.0], segs: oLabel('V') },
    { at: [528.0, 42.7], segs: oLabel('L') },
    { at: [534.36, 33.4], segs: oLabel('C') },
    { at: [536.77, 6.8], segs: [{ t: 'Fe/MgO-CaO', size: 44 }] },
  ],
};

const fontOf = (s: Seg) => `${s.italic ? 'italic ' : ''}${s.size}px ${SERIF}`;

function drawRich(ctx: CanvasRenderingContext2D, x: number, y: number, segs: Seg[], align: 'left' | 'center' = 'left') {
  const widths = segs.map((s) => { ctx.font = fontOf(s); return ctx.measureText(s.t).width; });
  const total = widths.reduce((a, b) => a + b, 0);
  let cx = align === 'center' ? x - total / 2 : x;
  const base = y + segs[0].size * 0.33;
  segs.forEach((s, i) => {
    ctx.font = fontOf(s);
    ctx.fillText(s.t, cx, base + (s.dy ?? 0));
    cx += widths[i];
  });
}

// box round the plot area plus inward tick marks on the energy axis
const framePlugin = (p: PanelSpec): Plugin => ({
  id: 'frame',
  afterDatasetsDraw(chart) {
    const { ctx, chartArea: a, scales } = chart;
    ctx.save();
    ctx.strokeStyle = '#000';
    ctx.lineWidth = 3;
    ctx.beginPath();
    p.ticks.forEach((v) => {
      const x = scales.x.getPixelForValue(v);
      ctx.moveTo(x, a.bottom);
      ctx.lineTo(x, a.bottom - 15);
    });
    ctx.stroke();
    ctx.strokeRect(a.left, a.top, a.right - a.left, a.bottom - a.top);
    ctx.restore();
  },
});

const textPlugin = (p: PanelSpec): Plugin => ({
  id: 'texts',
  afterDraw(chart) {
    const { ctx, chartArea: a, scales } = chart;
    ctx.save();
    ctx.fillStyle = '#000';
    ctx.textBaseline = 'alphabetic';
    ctx.textAlign = 'left';
    p.labels.forEach((l) => {
      drawRich(ctx, scales.x.getPixelForValue(l.at[0]), scales.y.getPixelForValue(l.at[1]), l.segs, l.align);
    });
    drawRich(ctx, scales.x.getPixelForValue(p.titleAt), a.bottom + p.titleDrop,
      [{ t: 'E', size: 42, italic: true }, { t: 'b', size: 26, dy: 3 }, { t: '/eV', size: 42 }], 'center');
    ctx.restore();
  },
});

function buildConfig(p: PanelSpec): ChartConfiguration {
  const ids = p.series.map((s) => s.id);
  const datasets = p.series.map((s) => {
    const ys = s.data.map((d) => d[1]);
    const hi = Math.max(...ys);
    const lo = Math.min(...ys);
    return {
      data: s.data.map(([x, y]) => ({ x, y })),
      borderColor: s.color,
      borderWidth: s.width,
      borderDash: s.dash ?? [],
      pointRadius: 0,
      tension: 0,
      cubicInterpolationMode: s.smooth ? 'monotone' : 'default',
      fill: s.fillTo ? { target: ids.indexOf(s.fillTo) } : false,
      backgroundColor: s.fillTop
        ? (c: any) => {
            const chart = c.chart;
            if (!chart.chartArea || !chart.scales.y) return s.fillTop;
            const y0 = chart.scales.y.getPixelForValue(hi);
            const y1 = chart.scales.y.getPixelForValue(lo);
            const g = chart.ctx.createLinearGradient(0, y0, 0, y1);
            g.addColorStop(0, s.fillTop as string);
            g.addColorStop(1, s.fillBottom as string);
            return g;
          }
        : 'rgba(0,0,0,0)',
    };
  });

  return {
    type: 'line',
    data: { datasets: datasets as any },
    options: {
      animation: false,
      responsive: false,
      events: [],
      layout: { padding: { left: 70, right: 70, top: 30, bottom: 0 } },
      plugins: { legend: { display: false }, tooltip: { enabled: false } },
      scales: {
        x: {
          type: 'linear',
          reverse: true,
          min: p.min,
          max: p.max,
          afterBuildTicks: (scale: any) => { scale.ticks = p.ticks.map((v) => ({ value: v })); },
          afterFit: (scale: any) => { scale.height = 160; },
          ticks: {
            font: { family: SERIF, size: 42 },
            color: '#000',
            padding: 28,
            autoSkip: false,
            maxRotation: 0,
            callback: (v: any) => String(v),
          },
          grid: { display: false, drawTicks: true, tickLength: -15 },
          border: { display: false },
        },
        y: { display: false, min: 0, max: 100 },
      },
    },
    plugins: [framePlugin(p), textPlugin(p)],
  } as ChartConfiguration;
}

type Box = { left: number; top: number; width: number; height: number };

function Panel({ spec, box }: { spec: PanelSpec; box: Box }) {
  const ref = useRef<HTMLCanvasElement>(null);
  useEffect(() => {
    if (!ref.current) return;
    const chart = new Chart(ref.current, buildConfig(spec));
    return () => chart.destroy();
  }, [spec]);
  return (
    <canvas
      ref={ref}
      width={box.width}
      height={box.height}
      style={{ position: 'absolute', left: box.left, top: box.top, width: box.width, height: box.height }}
    />
  );
}

const PANELS: { spec: PanelSpec; box: Box }[] = [
  { spec: panelA, box: { left: 2, top: 10, width: 921, height: 798 } },
  { spec: panelB, box: { left: 1168, top: 10, width: 920, height: 798 } },
  { spec: panelC, box: { left: 1, top: 800, width: 919, height: 806 } },
  { spec: panelD, box: { left: 1169, top: 799, width: 920, height: 806 } },
];

export default function App() {
  return (
    <div style={{ position: 'absolute', left: 0, top: 0, width: 2068, height: 1606, background: '#fff', overflow: 'hidden' }}>
      {PANELS.map((p, i) => (
        <Panel key={i} spec={p.spec} box={p.box} />
      ))}
    </div>
  );
}
